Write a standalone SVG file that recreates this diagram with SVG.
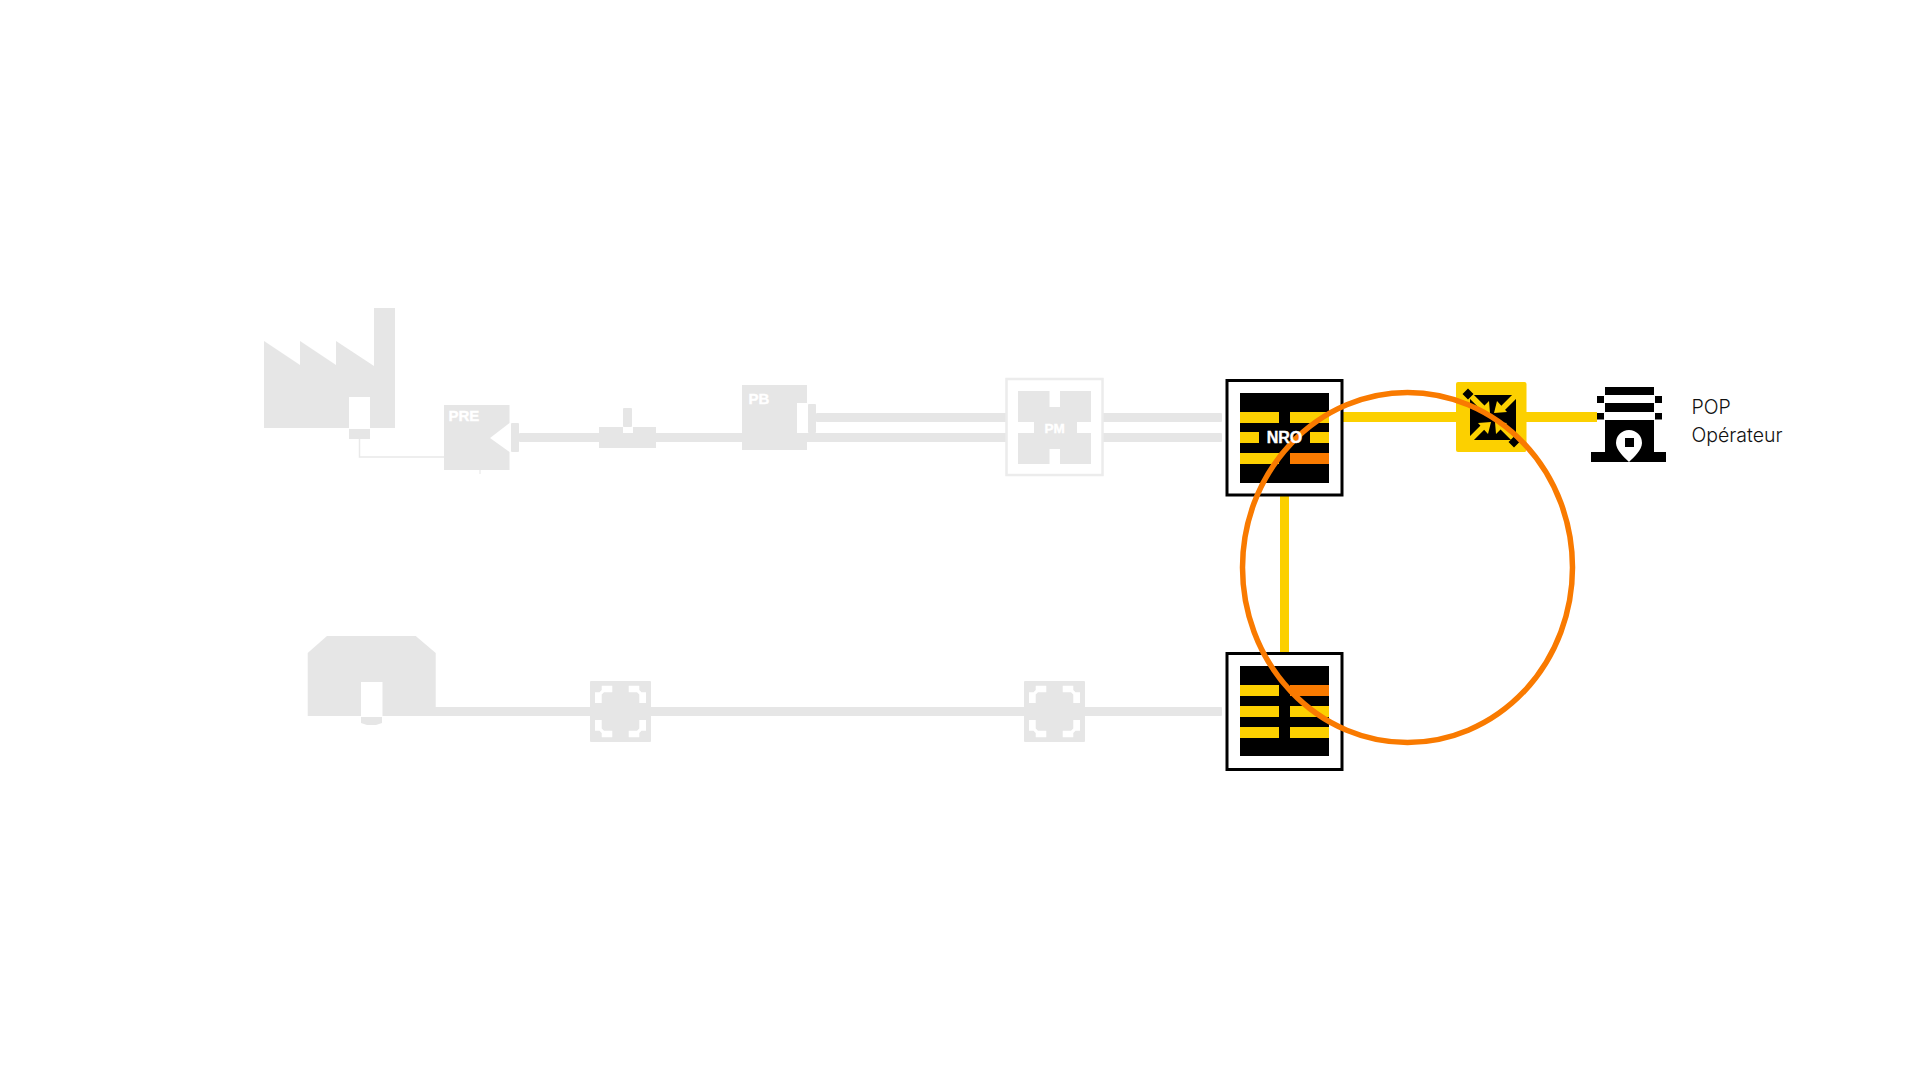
<svg xmlns="http://www.w3.org/2000/svg" xmlns:xlink="http://www.w3.org/1999/xlink" width="1920" height="1080" viewBox="0 0 1920 1080">
<style>
.g{fill:#e6e6e6}
.w{fill:#fff}
.k{fill:#000}
.y{fill:#fcd000}
.o{fill:#f97a00}
.lab{font-family:"Liberation Sans",Arial,sans-serif;font-weight:700;fill:#fff;stroke:#fff;stroke-width:.4px}
.t{font-family:Inter,"Liberation Sans",sans-serif;font-weight:300;font-size:19.5px;fill:#111}
.arm{stroke:#fcd000;stroke-width:5.5;fill:none}
</style>
<defs>
<path id="corner" d="M599.500 692.300L601.700 690V685.700H612.300V692.300H604L601.700 694.500V703H595V692.300Z" fill="#fff"/>
<g id="joint">
<rect class="g" x="590" y="681" width="61" height="61" rx="1"/>
<use xlink:href="#corner"/>
<use xlink:href="#corner" transform="translate(1241 0) scale(-1 1)"/>
<use xlink:href="#corner" transform="translate(0 1423) scale(1 -1)"/>
<use xlink:href="#corner" transform="translate(1241 1423) scale(-1 -1)"/>
</g>
</defs>
<rect width="1920" height="1080" fill="#fff"/>
<g id="connectors">
<path d="M359.500 439V457H444" fill="none" stroke="#e9e9e9" stroke-width="1.500"/>
<rect class="g" x="519" y="433" width="703" height="9" rx="1"/>
<rect class="g" x="816" y="413" width="406" height="9" rx="1"/>
<rect class="g" x="430" y="707" width="792" height="9" rx="1"/>
<rect class="y" x="1343" y="412" width="113" height="10"/>
<rect class="y" x="1526" y="412" width="71" height="10"/>
<rect class="y" x="1280" y="496" width="9" height="156"/>
</g>
<g id="node-factory">
<path class="g" d="M264 341L300 365V341L336 365V341L374 366V308H395V428H370V397H349V428H264Z"/>
<rect class="g" x="349" y="429" width="21" height="10"/>
</g>
<g id="node-pre">
<path class="g" d="M444 405H509.500V423L490 438L509.500 452V470H444Z"/>
<rect class="g" x="479.500" y="470" width="1" height="4"/>
<rect class="g" x="511" y="423" width="8" height="29" rx="1"/>
<text class="lab" x="448.500" y="421" font-size="15">PRE</text>
</g>
<g id="node-splice">
<path class="g" d="M599 427H623V436H633V427H656V448H599Z"/>
<rect class="g" x="623" y="408" width="9" height="19" rx="1"/>
</g>
<g id="node-pb">
<path class="g" d="M742 385H807V403H797V433H807V450H742Z"/>
<rect class="g" x="808" y="404" width="8" height="29" rx="1"/>
<text class="lab" x="748.500" y="403.500" font-size="15">PB</text>
</g>
<g id="node-pm">
<rect x="1006.500" y="379" width="96" height="96" fill="#fff" stroke="#ececec" stroke-width="2.500"/>
<path class="g" d="M1018 391H1049.500V407H1060V391H1091V422H1077V433H1091V464H1060V449H1049.500V464H1018V433H1034V422H1018Z"/>
<text class="lab" x="1054.500" y="432.500" font-size="13.500" text-anchor="middle">PM</text>
</g>
<g id="node-nro">
<rect x="1227" y="380.500" width="115" height="114.500" fill="#fff" stroke="#000" stroke-width="3"/>
<rect class="k" x="1240" y="393" width="89" height="90"/>
<rect class="y" x="1240" y="412" width="39" height="11"/>
<rect class="y" x="1290" y="412" width="39" height="11"/>
<rect class="y" x="1240" y="432" width="19" height="11"/>
<rect class="y" x="1310" y="432" width="19" height="11"/>
<rect class="y" x="1240" y="453" width="39" height="11"/>
<rect class="o" x="1290" y="453" width="39" height="11"/>
</g>
<g id="node-nro2">
<rect x="1227" y="653.500" width="115" height="116" fill="#fff" stroke="#000" stroke-width="3"/>
<rect class="k" x="1240" y="666" width="89" height="90"/>
<rect class="y" x="1240" y="685" width="39" height="11"/>
<rect class="o" x="1290" y="685" width="39" height="11"/>
<rect class="y" x="1240" y="706" width="39" height="11"/>
<rect class="y" x="1290" y="706" width="39" height="11"/>
<rect class="y" x="1240" y="727" width="39" height="11"/>
<rect class="y" x="1290" y="727" width="39" height="11"/>
</g>
<g id="node-house">
<path class="g" d="M307.700 653L327 636H415.700L435.700 653V716H382.500V682H361V716H307.700Z"/>
<path class="g" d="M361 717H382V723L376 725H367L361 723Z"/>
</g>
<use id="node-joint1" xlink:href="#joint"/>
<use id="node-joint2" xlink:href="#joint" transform="translate(434 0)"/>
<g id="node-cross">
<rect class="y" x="1456" y="382" width="70.500" height="70" rx="2"/>
<rect class="k" x="1470" y="395" width="46" height="45"/>
<path class="arm" d="M1517 394L1502 409M1469 441L1484 426M1469 394L1484 409M1516 441L1501 426"/>
<path class="y" d="M1494 413L1497 401L1507 412ZM1491 422L1488 434L1478 423ZM1490 413L1478 412L1489 401ZM1495 422L1507 423L1496 434Z"/>
<path class="k" d="M1468 388.500L1473.500 394L1468 399.500L1462.500 394ZM1514 436.500L1519.500 442L1514 447.500L1508.500 442Z"/>
</g>
<g id="node-pop">
<rect class="k" x="1605" y="387" width="49" height="8"/>
<rect class="k" x="1605" y="403" width="49" height="9"/>
<rect class="k" x="1597" y="396" width="7" height="7"/>
<rect class="k" x="1655" y="396" width="7" height="7"/>
<rect class="k" x="1597" y="413" width="7" height="6.500"/>
<rect class="k" x="1655" y="413" width="7" height="6.500"/>
<path class="k" d="M1605 420H1654V452H1666V462H1591V452H1605Z"/>
<path class="w" d="M1629 430A13 13 0 0 1 1642 443C1642 450 1634 457 1629 462C1624 457 1616 450 1616 443A13 13 0 0 1 1629 430Z"/>
<rect class="k" x="1625" y="438" width="9" height="9"/>
<text class="t" x="1691.500" y="414">POP</text>
<text class="t" x="1691.500" y="441.500">Opérateur</text>
</g>
<ellipse id="ring" cx="1407.500" cy="567.500" rx="165" ry="175" fill="none" stroke="#f97a00" stroke-width="5.500"/>
<text class="lab" x="1284.500" y="443" font-size="16" text-anchor="middle">NRO</text>
</svg>
